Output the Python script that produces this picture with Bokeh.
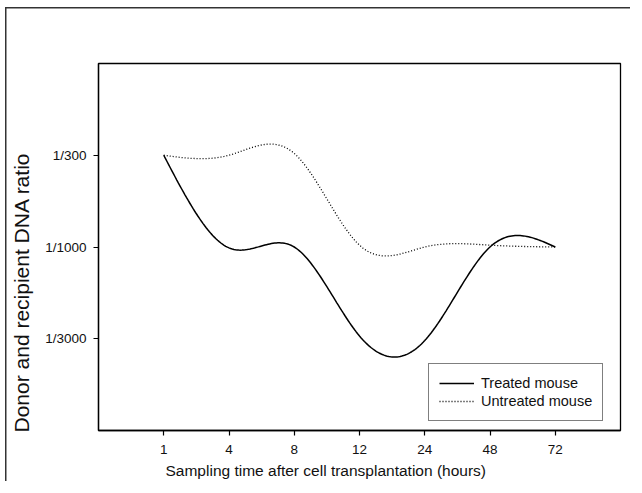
import numpy as np
from bokeh.plotting import figure
from bokeh.models import FixedTicker, Legend, LegendItem, Title
from bokeh.embed import file_html
from bokeh.resources import INLINE

# ---- data ----
time_labels = ["1", "4", "8", "12", "24", "48", "72"]          # sampling time (hours)
ratio_labels = ["1/3000", "1/1000", "1/300"]                    # ratio scale positions 1, 2, 3
treated = [3.0, 1.99, 2.0, 1.03, 0.98, 2.0, 2.0]               # position on ratio scale
untreated = [3.0, 3.0, 3.02, 2.02, 2.0, 2.02, 2.0]


def smooth(y, n=40):
    """Natural cubic spline through the data points (rendering of a spline curve)."""
    y = np.asarray(y, float)
    k = len(y)
    A = np.zeros((k, k))
    r = np.zeros(k)
    A[0, 0] = A[-1, -1] = 1
    for i in range(1, k - 1):
        A[i, i - 1] = 1
        A[i, i] = 4
        A[i, i + 1] = 1
        r[i] = 6 * (y[i + 1] - 2 * y[i] + y[i - 1])
    M = np.linalg.solve(A, r)
    xs, ys = [], []
    for i in range(k - 1):
        t = np.linspace(0, 1, n, endpoint=(i == k - 2))
        s = (1 - t) * y[i] + t * y[i + 1] - t * (1 - t) / 6 * ((2 - t) * M[i] + (1 + t) * M[i + 1])
        xs.extend(list(i + t))
        ys.extend(list(s))
    return xs, ys


FONT = "Liberation Sans, Arial, sans-serif"

p = figure(frame_width=522, frame_height=367,
           min_border_left=102, min_border_top=63, min_border_right=10, min_border_bottom=50,
           x_range=(-1, 7), y_range=(0, 4),
           output_backend="svg", toolbar_location=None)
# outer page frame (left and top lines), drawn behind a transparent border area
p.styles = {"margin-left": "-4px", "margin-top": "0px",
            "background-image": "linear-gradient(#333, #333), linear-gradient(#333, #333)",
            "background-size": "1.5px 100%, 100% 1.5px",
            "background-position": "9px 7px, 9px 7px",
            "background-repeat": "no-repeat"}
p.border_fill_alpha = 0

p.xgrid.visible = False
p.ygrid.visible = False
p.outline_line_color = "black"
p.outline_line_width = 1.3
p.background_fill_color = "white"

tx, ty = smooth(treated)
ux, uy = smooth(untreated)
r1 = p.line(tx, ty, line_color="black", line_width=1.5)
r2 = p.line(ux, uy, line_color="black", line_width=1.3, line_dash="1 2")

for ax in (p.xaxis[0], p.yaxis[0]):
    ax.axis_line_color = "black"
    ax.axis_line_width = 1.3
    ax.major_tick_line_color = "black"
    ax.major_tick_line_width = 1.2
    ax.major_tick_in = 0
    ax.major_tick_out = 5
    ax.minor_tick_line_color = None
    ax.major_label_text_font = FONT
    ax.major_label_text_font_size = "13.5px"
    ax.major_label_text_color = "#111111"
    ax.major_label_standoff = 7
p.xaxis[0].major_label_standoff = 9

p.xaxis[0].ticker = FixedTicker(ticks=list(range(len(time_labels))))
p.xaxis[0].major_label_overrides = {i: s for i, s in enumerate(time_labels)}
p.yaxis[0].ticker = FixedTicker(ticks=[1, 2, 3])
p.yaxis[0].major_label_overrides = {i + 1: s for i, s in enumerate(ratio_labels)}

p.add_layout(Title(text="Sampling time after cell transplantation (hours)", align="left", offset=67,
                   text_font=FONT, text_font_size="15.5px", text_font_style="normal",
                   text_color="#111111", standoff=6), "below")
p.add_layout(Title(text="Donor and  recipient DNA ratio", align="left", offset=-2,
                   text_font=FONT, text_font_size="21px", text_font_style="normal",
                   text_color="#111111", standoff=20), "left")

legend = Legend(items=[LegendItem(label="Treated mouse", renderers=[r1]),
                       LegendItem(label="Untreated mouse", renderers=[r2])],
                location=(330, 9))
legend.border_line_color = "black"
legend.border_line_width = 1.2
legend.padding = 10
legend.spacing = 0
legend.margin = 0
legend.glyph_width = 35
legend.glyph_height = 18
legend.label_height = 18
legend.label_standoff = 7
legend.label_text_font = FONT
legend.label_text_font_size = "14.5px"
legend.label_text_color = "#111111"
p.add_layout(legend)

open("out.html", "w").write(file_html(p, INLINE))
